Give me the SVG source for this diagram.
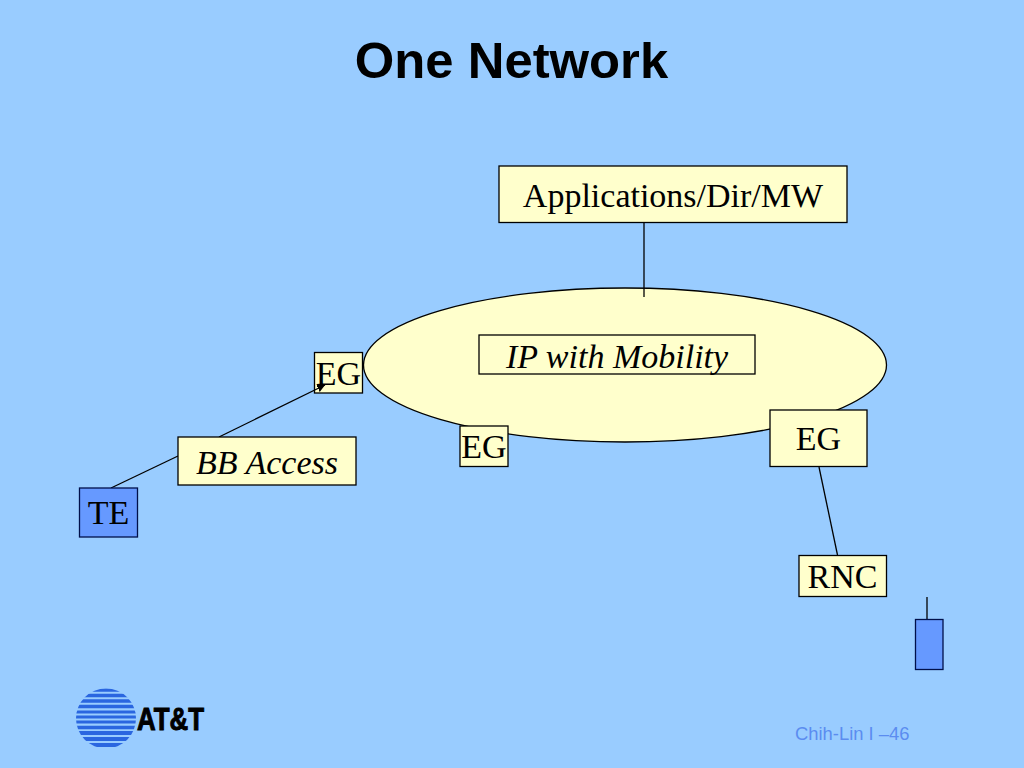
<svg xmlns="http://www.w3.org/2000/svg" width="1024" height="768" viewBox="0 0 1024 768">
<style>
.box{fill:#ffffcc;stroke:#000;stroke-width:1.3}
.blue{fill:#6699ff;stroke:#00104a;stroke-width:1.3}
.t{font-family:"Liberation Serif",serif;font-size:34px;fill:#000;text-anchor:middle}
.i{font-style:italic}
.c{stroke:#000;stroke-width:1.3;fill:none}
.s{stroke:#2a66e0;fill:none}
</style>
<defs>
<clipPath id="globe"><circle cx="106" cy="718.500" r="30"/></clipPath>
<marker id="ah" markerWidth="7" markerHeight="7" refX="6" refY="3" orient="auto"><path d="M0,0L6,3L0,6z" fill="#000"/></marker>
</defs>
<rect width="1024" height="768" fill="#99ccff"/>
<text id="title" x="511.500" y="78" font-family="Liberation Sans,sans-serif" font-size="50.800" font-weight="bold" text-anchor="middle">One Network</text>
<g id="ellipse"><ellipse cx="625" cy="365" rx="261.500" ry="77" class="box"/></g>
<g id="apps"><rect class="box" x="499" y="166" width="348" height="56.500"/><text class="t" x="673" y="207">Applications/Dir/MW</text></g>
<g id="ip"><rect class="box" x="479" y="335" width="276" height="39"/><text class="t i" x="617" y="368">IP with Mobility</text></g>
<g id="eg1"><rect class="box" x="314.500" y="352.500" width="48" height="40.500"/><text class="t" x="338.500" y="385">EG</text></g>
<g id="eg2"><rect class="box" x="460" y="426" width="48" height="40.500"/><text class="t" x="484" y="458">EG</text></g>
<g id="eg3"><rect class="box" x="770" y="410" width="97" height="56.500"/><text class="t" x="818.500" y="450">EG</text></g>
<g id="connectors">
<line class="c" x1="644" y1="223" x2="644" y2="297"/>
<line class="c" x1="219" y1="437" x2="325" y2="385" marker-end="url(#ah)"/>
<line class="c" x1="111" y1="488" x2="178" y2="456"/>
<line class="c" x1="819" y1="467" x2="837.500" y2="555"/>
<line class="c" x1="927" y1="597" x2="927" y2="619"/>
</g>
<g id="bb"><rect class="box" x="178" y="437" width="178" height="48"/><text class="t i" x="267" y="474">BB Access</text></g>
<g id="te"><rect class="blue" x="79.500" y="488" width="58" height="49"/><text class="t" x="108.500" y="524">TE</text></g>
<g id="rnc"><rect class="box" x="799" y="555.500" width="87.500" height="41"/><text class="t" x="842.500" y="588">RNC</text></g>
<g id="phone"><rect class="blue" x="915.500" y="619.500" width="27.500" height="50"/></g>
<g id="logo">
<g clip-path="url(#globe)" class="s">
<line x1="70" x2="140" y1="690" y2="690" stroke-width="3.400"/>
<line x1="70" x2="140" y1="695.500" y2="695.500" stroke-width="3.400"/>
<line x1="70" x2="140" y1="701" y2="701" stroke-width="3.600"/>
<line x1="70" x2="140" y1="706.500" y2="706.500" stroke-width="3.600"/>
<line x1="70" x2="140" y1="712" y2="712" stroke-width="3"/>
<line x1="70" x2="140" y1="717" y2="717" stroke-width="3"/>
<line x1="70" x2="140" y1="722" y2="722" stroke-width="3"/>
<line x1="70" x2="140" y1="727.500" y2="727.500" stroke-width="3.600"/>
<line x1="70" x2="140" y1="733" y2="733" stroke-width="4"/>
<line x1="70" x2="140" y1="739" y2="739" stroke-width="4"/>
<line x1="70" x2="140" y1="745" y2="745" stroke-width="4"/>
</g>
<text x="137" y="730" font-family="Liberation Sans,sans-serif" font-size="31" font-weight="bold" stroke="#000" stroke-width="1" textLength="67" lengthAdjust="spacingAndGlyphs">AT&amp;T</text>
</g>
<text id="footer" x="795" y="740" font-family="Liberation Sans,sans-serif" font-size="18.400" fill="#5b8cf0">Chih-Lin I –46</text>
</svg>
